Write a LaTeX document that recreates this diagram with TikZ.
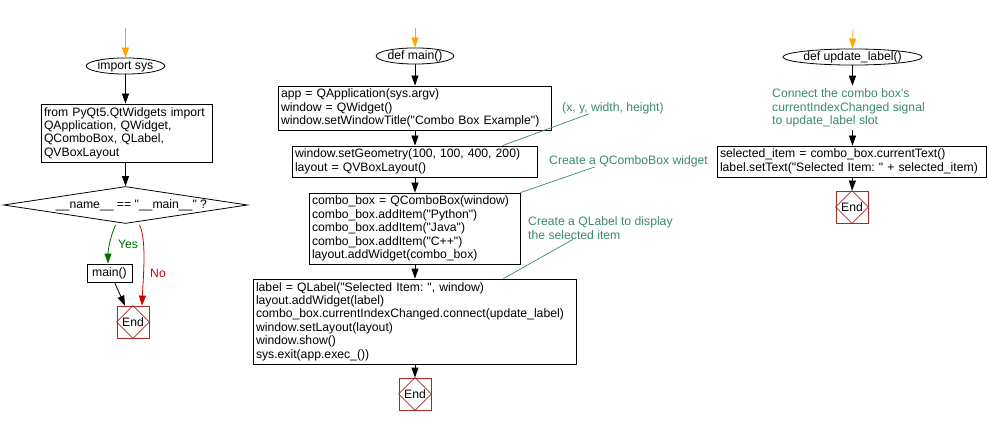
\documentclass[tikz,border=0pt]{standalone}
\usepackage{fontspec}
\newfontfamily\cf{Liberation Sans}
\usetikzlibrary{shapes.geometric,arrows.meta}
\definecolor{cmt}{RGB}{58,138,110}
\definecolor{yesc}{RGB}{0,110,0}
\definecolor{noc}{RGB}{210,0,0}
\definecolor{endc}{RGB}{170,40,40}
\definecolor{startc}{RGB}{255,165,0}
\frenchspacing
\tikzset{
  box/.style={draw, line width=0.8pt, inner xsep=3pt, inner ysep=0pt, align=left},
  sbox/.style={draw, line width=0.8pt, inner sep=0pt},
  term/.style={ellipse, draw, line width=0.8pt, inner sep=0pt},
  endbox/.style={draw=endc, line width=0.8pt, minimum size=32pt, inner sep=0pt},
  tipk/.style={-{Triangle[width=7pt,length=10pt]}},
  arr/.style={tipk, line width=0.8pt},
  arrO/.style={tipk, line width=0.8pt, draw=startc},
  arrG/.style={tipk, line width=0.8pt, draw=yesc},
  arrR/.style={tipk, line width=0.8pt, draw=noc},
  cmtxt/.style={text=cmt, align=left, inner sep=1pt},
  cmtline/.style={draw=cmt, line width=0.7pt},
}
\newcommand\xdiam[1]{\draw[endc, line width=0.6pt] (#1.north) -- (#1.east) -- (#1.south) -- (#1.west) -- cycle;}
\begin{document}
\begin{tikzpicture}[x=1pt, y=-1pt, font=\cf\fontsize{12.2}{13.4}\selectfont]
\useasboundingbox (0,0) rectangle (989,425);

% ---------- left column ----------
\coordinate (s1) at (125.5,28);
\node[term, minimum width=74pt, minimum height=16pt] (imp) at (125.5,66) {import sys};
\node[box, text width=165pt, minimum height=58pt] (imports) at (126.5,133)
  {from PyQt5.QtWidgets import\\QApplication, QWidget,\\QComboBox, QLabel,\\QVBoxLayout};
\node[diamond, draw, line width=0.8pt, minimum width=244pt, minimum height=37pt, inner sep=0pt, aspect=6.5] (dec) at (125.5,205)
  {\hspace*{12pt}\_\_name\_\_ == "\_\_main\_\_" ?};
\node[sbox, minimum width=45pt, minimum height=18pt] (mc) at (109.5,273) {main()};
\node[endbox] (e1) at (133,322) {End};
\xdiam{e1}
\node[text=yesc, inner sep=0pt] (lyes) at (128,244) {Yes};
\node[text=noc, inner sep=0pt] (lno) at (158,273) {No};

\draw[arrO] (s1) -- (imp.north);
\draw[arr] (imp.south) -- (imp.south|-imports.north);
\draw[arr] (imp.south|-imports.south) -- (dec.north);
\draw[arrG] ([xshift=-10pt,yshift=-1pt]dec.south) .. controls (110,238) and (108,250) .. ([xshift=-1.5pt]mc.north);
\draw[arrR] ([xshift=14pt,yshift=-1pt]dec.south) .. controls (147,240) and (143,280) .. ([xshift=9pt]e1.north);
\draw[arr] ([xshift=5pt]mc.south) -- ([xshift=-8pt]e1.north);

% ---------- middle column ----------
\coordinate (s2) at (415,28);
\node[term, minimum width=71pt, minimum height=16pt] (dm) at (415,56) {def main()};
\node[box, text width=267pt, minimum height=44pt] (b1) at (414.5,108)
  {app = QApplication(sys.argv)\\window = QWidget()\\window.setWindowTitle("Combo Box Example")};
\node[box, text width=239pt, minimum height=31pt] (b2) at (414.5,161.5)
  {window.setGeometry(100, 100, 400, 200)\\layout = QVBoxLayout()};
\node[box, text width=205pt, minimum height=71pt] (b3) at (414.5,228.5)
  {combo\_box = QComboBox(window)\\combo\_box.addItem("Python")\\combo\_box.addItem("Java")\\combo\_box.addItem("C++")\\layout.addWidget(combo\_box)};
\node[box, text width=317pt, minimum height=85pt] (b4) at (414.5,321.5)
  {label = QLabel("Selected Item: ", window)\\layout.addWidget(label)\\combo\_box.currentIndexChanged.connect(update\_label)\\window.setLayout(layout)\\window.show()\\sys.exit(app.exec\_())};
\node[endbox] (e2) at (415,394) {End};
\xdiam{e2}

\draw[arrO] (s2) -- (dm.north);
\draw[arr] (dm.south) -- (dm.south|-b1.north);
\draw[arr] (dm.south|-b1.south) -- (dm.south|-b2.north);
\draw[arr] (dm.south|-b2.south) -- (dm.south|-b3.north);
\draw[arr] (dm.south|-b3.south) -- (dm.south|-b4.north);
\draw[arr] (dm.south|-b4.south) -- (e2.north);

% comments
\node[cmtxt, anchor=west] (c1) at (561,108) {(x, y, width, height)};
\node[cmtxt, anchor=west] (c2) at (548,161) {Create a QComboBox widget};
\node[cmtxt, anchor=west] (c3) at (527,228) {Create a QLabel to display\\the selected item};
\draw[cmtline] ([xshift=28pt,yshift=1pt]c1.south west) -- ([xshift=-35pt]b2.north east);
\draw[cmtline] ([xshift=47pt,yshift=1pt]c2.south west) -- (b3.north east);
\draw[cmtline] ([xshift=46pt,yshift=1pt]c3.south west) -- ([xshift=-73pt]b4.north east);

% ---------- right column ----------
\coordinate (s3) at (853,29);
\node[term, minimum width=115pt, minimum height=16pt] (ul) at (852.5,57) {def update\_label()};
\node[cmtxt, anchor=west, inner sep=3pt] (c4) at (769,108)
  {Connect the combo box's\\currentIndexChanged signal\\to update\_label slot};
\node[box, text width=263pt, minimum height=31pt] (rb) at (851.5,161.5)
  {selected\_item = combo\_box.currentText()\\label.setText("Selected Item: " + selected\_item)};
\node[endbox] (e3) at (852,207) {End};
\xdiam{e3}

\draw[arrO] (s3) -- (ul.north);
\draw[arr] (ul.south) -- (ul.south|-c4.north);
\draw[arr] (ul.south|-c4.south) -- (ul.south|-rb.north);
\draw[arr] (ul.south|-rb.south) -- (e3.north);
\end{tikzpicture}
\end{document}
